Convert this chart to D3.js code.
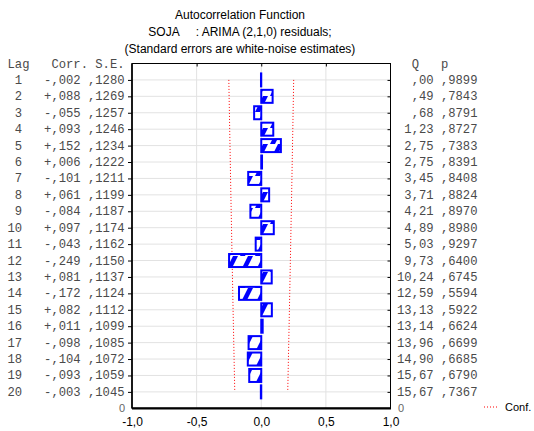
<!DOCTYPE html>
<html><head><meta charset="utf-8">
<script src="https://cdn.jsdelivr.net/npm/d3@7/dist/d3.min.js"></script>
<style>
html,body{margin:0;padding:0;background:#fff;}
svg{display:block;}
.mono{font-family:"Liberation Mono","Courier New",monospace;font-size:12.2px;fill:#4a4a4a;white-space:pre;}
.sans{font-family:"Liberation Sans",Arial,sans-serif;}
</style>
</head><body>
<script>
const titleLines = ["Autocorrelation Function", "SOJA     : ARIMA (2,1,0) residuals;", "(Standard errors are white-noise estimates)"];
const lags = d3.range(1, 21);
const corr = [-0.002, 0.088, -0.055, 0.093, 0.152, 0.006, -0.101, 0.061, -0.084, 0.097, -0.043, -0.249, 0.081, -0.172, 0.082, 0.011, -0.098, -0.104, -0.093, -0.003];
const se = [0.1280, 0.1269, 0.1257, 0.1246, 0.1234, 0.1222, 0.1211, 0.1199, 0.1187, 0.1174, 0.1162, 0.1150, 0.1137, 0.1124, 0.1112, 0.1099, 0.1085, 0.1072, 0.1059, 0.1045];
const qStat = [0.00, 0.49, 0.68, 1.23, 2.75, 2.75, 3.45, 3.71, 4.21, 4.89, 5.03, 9.73, 10.24, 12.59, 13.13, 13.14, 13.96, 14.90, 15.67, 15.67];
const pVal = [0.9899, 0.7843, 0.8791, 0.8727, 0.7383, 0.8391, 0.8408, 0.8824, 0.8970, 0.8980, 0.9297, 0.6400, 0.6745, 0.5594, 0.5922, 0.6624, 0.6699, 0.6685, 0.6790, 0.7367];
const xTicks = [-1, -0.5, 0, 0.5, 1];
const legendLabel = "Conf. Limit";

const W = 534, H = 431;
const svg = d3.select("body").append("svg").attr("width", W).attr("height", H);

const x = d3.scaleLinear().domain([-1, 1]).range([132, 390.5]);
const y = d3.scaleLinear().domain([0, 21]).range([63.5, 408.3]);
const barH = 13;

// hatch pattern
const defs = svg.append("defs");
const P = 15;
const pat = defs.append("pattern").attr("id", "hatch").attr("patternUnits", "userSpaceOnUse")
  .attr("width", P).attr("height", 16);
pat.append("rect").attr("width", P).attr("height", 16).attr("fill", "#fff");
const stripe = o => `M${o},16 L${o + 8},0 L${o + 13},0 L${o + 5},16 Z`;
pat.append("path").attr("d", stripe(-P) + stripe(0) + stripe(P)).attr("fill", "#0000ff");

// titles
const tg = svg.append("g").attr("class", "sans").attr("font-size", 12).attr("text-anchor", "middle").attr("fill", "#000");
titleLines.forEach((t, i) => {
  tg.append("text").attr("x", 240).attr("y", 19 + i * 16.8).style("white-space", "pre").text(t);
});

// gridlines
const grid = svg.append("g");
grid.selectAll("line.h").data(lags).join("line")
  .attr("x1", x(-1)).attr("x2", x(1)).attr("y1", d => y(d)).attr("y2", d => y(d))
  .attr("stroke", "#e2e2e2").attr("stroke-width", 1);
grid.selectAll("line.v").data([-0.5, 0, 0.5]).join("line")
  .attr("x1", d => x(d)).attr("x2", d => x(d)).attr("y1", y(0)).attr("y2", y(21))
  .attr("stroke", "#e2e2e2").attr("stroke-width", 1);

// confidence limits
const confLine = d3.line().x(d => x(d[0])).y(d => y(d[1]));
[1, -1].forEach(s => {
  svg.append("path").datum(lags.map((l, i) => [s * 1.96 * se[i], l]))
    .attr("d", confLine).attr("fill", "none").attr("stroke", "#ff0000")
    .attr("stroke-width", 1).attr("stroke-dasharray", "1,2");
});

// bars
svg.append("g").selectAll("rect").data(lags.map((l, i) => ({l, v: corr[i]}))).join("rect")
  .attr("x", d => Math.min(x(0), x(d.v)))
  .attr("width", d => Math.abs(x(d.v) - x(0)))
  .attr("y", d => y(d.l) - barH / 2)
  .attr("height", barH)
  .attr("fill", "url(#hatch)")
  .attr("stroke", "#0000ff").attr("stroke-width", 2);

// axes
const leftAxis = d3.axisLeft(y).tickValues(lags).tickSize(4).tickFormat("");
const gl = svg.append("g").attr("transform", `translate(${x(-1)},0)`).call(leftAxis);
gl.select(".domain").remove();
const rightAxis = d3.axisRight(y).tickValues(lags).tickSize(-3).tickFormat("");
const gr = svg.append("g").attr("transform", `translate(${x(1)},0)`).call(rightAxis);
gr.select(".domain").remove();
const topAxis = d3.axisTop(x).tickValues([-0.5, 0, 0.5]).tickSize(-3).tickFormat("");
const gt = svg.append("g").attr("transform", `translate(0,${y(0)})`).call(topAxis);
gt.select(".domain").remove();
const fmt = v => d3.format(".1f")(v).replace("−", "-").replace(".", ",");
const bottomAxis = d3.axisBottom(x).tickValues(xTicks).tickSize(0).tickPadding(9).tickFormat(fmt);
const gb = svg.append("g").attr("transform", `translate(0,${y(21)})`).call(bottomAxis);
gb.select(".domain").remove();
gb.selectAll("text").attr("font-family", "Liberation Sans, Arial, sans-serif").attr("font-size", 12).attr("fill", "#000");

// frame
svg.append("rect").attr("x", x(-1)).attr("y", y(0)).attr("width", x(1) - x(-1)).attr("height", y(21) - y(0))
  .attr("fill", "none").attr("stroke", "#000").attr("stroke-width", 1);
svg.append("line").attr("x1", x(-1)).attr("x2", x(1) + 0.5).attr("y1", y(21)).attr("y2", y(21))
  .attr("stroke", "#000").attr("stroke-width", 2.2);
svg.append("line").attr("x1", x(-1)).attr("x2", x(-1)).attr("y1", y(0)).attr("y2", y(21))
  .attr("stroke", "#000").attr("stroke-width", 1.6);

// left table
const fCorr = v => (v < 0 ? "-" : "+") + "," + d3.format("03d")(Math.round(Math.abs(v) * 1000));
const fSE = v => "," + d3.format("04d")(Math.round(v * 10000));
const fQ = v => { const s = d3.format(".2f")(v).replace(".", ","); return (v < 1 ? s.slice(1) : s).padStart(5, " "); };
const fP = v => "," + d3.format("04d")(Math.round(v * 10000));

const lx = 7.5;
svg.append("text").attr("class", "mono").attr("x", lx).attr("y", y(0) + 4).text("Lag   Corr. S.E.");
svg.selectAll("text.lrow").data(lags).join("text").attr("class", "mono lrow")
  .attr("x", lx).attr("y", d => y(d) + 4)
  .text((d, i) => String(d).padStart(2, " ") + "   " + fCorr(corr[i]) + " " + fSE(se[i]));

const rx = 397;
svg.append("text").attr("class", "mono").attr("x", rx).attr("y", y(0) + 4).text("  Q   p");
svg.selectAll("text.rrow").data(lags).join("text").attr("class", "mono rrow")
  .attr("x", rx).attr("y", d => y(d) + 4)
  .text((d, i) => fQ(qStat[i]) + " " + fP(pVal[i]));

// zero labels
svg.append("text").attr("class", "sans").attr("font-size", 11).attr("fill", "#666").attr("text-anchor", "end")
  .attr("x", 125).attr("y", y(21) + 4).text("0");
svg.append("text").attr("class", "sans").attr("font-size", 11).attr("fill", "#666")
  .attr("x", 398).attr("y", y(21) + 4).text("0");

// legend (clipped at the right edge, as in the reference)
svg.append("line").attr("x1", 484).attr("x2", 498).attr("y1", 407).attr("y2", 407)
  .attr("stroke", "#ff0000").attr("stroke-width", 1).attr("stroke-dasharray", "1,2");
svg.append("text").attr("class", "sans").attr("font-size", 11).attr("fill", "#000")
  .attr("x", 505).attr("y", 411).text(legendLabel);
</script>
</body></html>
